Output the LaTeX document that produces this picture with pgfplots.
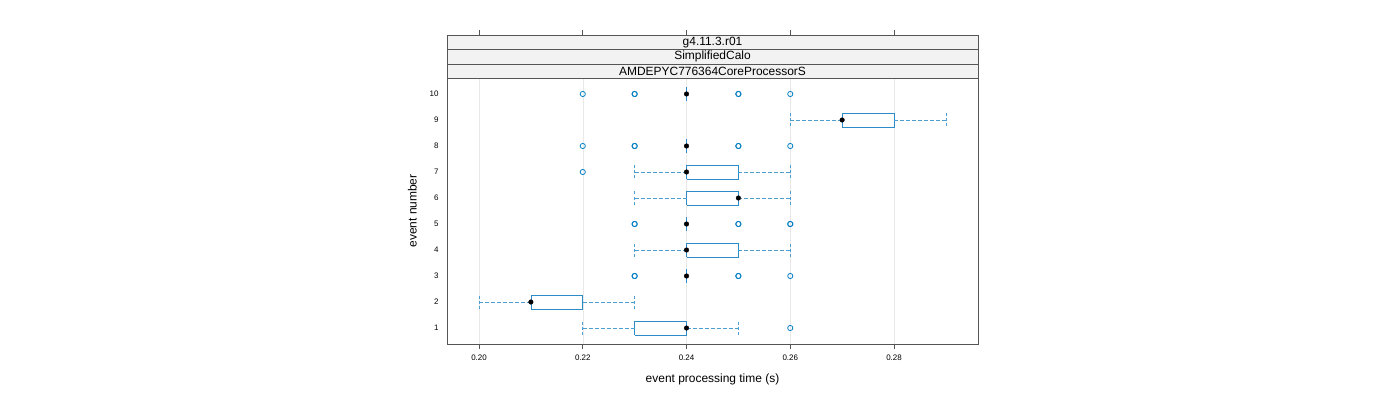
\documentclass[border=0pt]{standalone}
\usepackage{fontspec}
\setmainfont{Liberation Sans}
\usepackage{pgfplots}
\pgfplotsset{compat=1.18}
\usetikzlibrary{calc}
\definecolor{bwblue}{RGB}{0,125,195}
\definecolor{boxblue}{RGB}{45,140,200}
\definecolor{framegray}{RGB}{85,85,85}
\definecolor{stripgray}{RGB}{242,242,242}
\begin{document}
\begin{tikzpicture}[x=1bp,y=1bp]
\useasboundingbox (0,0) rectangle (1400,400);
\begin{axis}[name=ax, at={(447bp,56bp)}, anchor=south west,
  scale only axis, width=531bp, height=266bp,
  xmin=0.19383, xmax=0.29619, ymin=0.385, ymax=10.615,
  xtick={0.20,0.22,0.24,0.26,0.28},
  xticklabels={0.20,0.22,0.24,0.26,0.28},
  ytick={1,2,3,4,5,6,7,8,9,10},
  yticklabels={1,2,3,4,5,6,7,8,9,10},
  tick label style={font=\fontsize{8}{9}\selectfont},
  xticklabel style={yshift=-2bp},
  xtick pos=bottom, ytick pos=left,
  tick align=outside, major tick length=5bp,
  y tick style={draw=none},
  x tick style={framegray, line width=0.6pt},
  axis line style={framegray, line width=0.6pt},
  xmajorgrids, grid style={gray!18, line width=0.5pt},
  xlabel={event processing time (s)}, ylabel={event number},
  label style={font=\fontsize{12}{14}\selectfont},
  xlabel style={yshift=-7bp}, ylabel style={yshift=6bp},
  unbounded coords=jump, clip=false,
]
% boxes
\addplot[boxblue, line width=0.7pt] coordinates {
 (0.23,0.73)(0.24,0.73)(0.24,1.27)(0.23,1.27)(0.23,0.73) (nan,nan)
 (0.21,1.73)(0.22,1.73)(0.22,2.27)(0.21,2.27)(0.21,1.73) (nan,nan)
 (0.24,3.73)(0.25,3.73)(0.25,4.27)(0.24,4.27)(0.24,3.73) (nan,nan)
 (0.24,5.73)(0.25,5.73)(0.25,6.27)(0.24,6.27)(0.24,5.73) (nan,nan)
 (0.24,6.73)(0.25,6.73)(0.25,7.27)(0.24,7.27)(0.24,6.73) (nan,nan)
 (0.27,8.73)(0.28,8.73)(0.28,9.27)(0.27,9.27)(0.27,8.73) (nan,nan)
 (0.24,2.73)(0.24,3.27) (nan,nan)
 (0.24,4.73)(0.24,5.27) (nan,nan)
 (0.24,7.73)(0.24,8.27) (nan,nan)
 (0.24,9.73)(0.24,10.27)
};
% whiskers
\addplot[boxblue!85, line width=0.7pt, dash pattern=on 4bp off 2bp] coordinates {
 (0.22,1)(0.23,1) (nan,nan) (0.24,1)(0.25,1) (nan,nan)
 (0.20,2)(0.21,2) (nan,nan) (0.22,2)(0.23,2) (nan,nan)
 (0.23,4)(0.24,4) (nan,nan) (0.25,4)(0.26,4) (nan,nan)
 (0.23,6)(0.24,6) (nan,nan) (0.25,6)(0.26,6) (nan,nan)
 (0.23,7)(0.24,7) (nan,nan) (0.25,7)(0.26,7) (nan,nan)
 (0.26,9)(0.27,9) (nan,nan) (0.28,9)(0.29,9)
};
% whisker caps
\addplot[boxblue!85, line width=0.7pt, dash pattern=on 3bp off 2bp] coordinates {
 (0.22,0.75)(0.22,1.25) (nan,nan) (0.25,0.75)(0.25,1.25) (nan,nan)
 (0.20,1.75)(0.20,2.25) (nan,nan) (0.23,1.75)(0.23,2.25) (nan,nan)
 (0.23,3.75)(0.23,4.25) (nan,nan) (0.26,3.75)(0.26,4.25) (nan,nan)
 (0.23,5.75)(0.23,6.25) (nan,nan) (0.26,5.75)(0.26,6.25) (nan,nan)
 (0.23,6.75)(0.23,7.25) (nan,nan) (0.26,6.75)(0.26,7.25) (nan,nan)
 (0.26,8.75)(0.26,9.25) (nan,nan) (0.29,8.75)(0.29,9.25)
};
% outliers
\addplot[only marks, mark=o, mark size=2.6bp, bwblue, mark options={line width=0.8pt}] coordinates {
 (0.26,1)
 (0.23,3)(0.23,3)(0.25,3)(0.25,3)(0.26,3)
 (0.23,5)(0.23,5)(0.25,5)(0.25,5)(0.26,5)(0.26,5)
 (0.22,7)
 (0.22,8)(0.23,8)(0.23,8)(0.25,8)(0.25,8)(0.26,8)
 (0.22,10)(0.23,10)(0.23,10)(0.25,10)(0.25,10)(0.26,10)
};
% medians
\addplot[only marks, mark=*, mark size=2.3bp, black] coordinates {
 (0.24,1)(0.21,2)(0.24,3)(0.24,4)(0.24,5)(0.25,6)(0.24,7)(0.24,8)(0.27,9)(0.24,10)
};
\end{axis}
% strips
\begin{scope}[framegray, line width=0.6pt]
\foreach \lo/\hi/\txt in {0/14/AMDEPYC776364CoreProcessorS, 14/28.5/SimplifiedCalo, 28.5/43/g4.11.3.r01} {
  \draw[fill=stripgray] ([yshift=\lo bp]ax.north west) rectangle ([yshift=\hi bp]ax.north east);
  \node[black, font=\fontsize{12}{14}\selectfont, inner sep=0pt] at ($([yshift=\lo bp]ax.north)!0.5!([yshift=\hi bp]ax.north)$) {\txt};
}
\foreach \xx in {479,582.75,686.5,790.25,894} {
  \draw (\xx,365) -- (\xx,370);
}
\end{scope}
\end{tikzpicture}
\end{document}
